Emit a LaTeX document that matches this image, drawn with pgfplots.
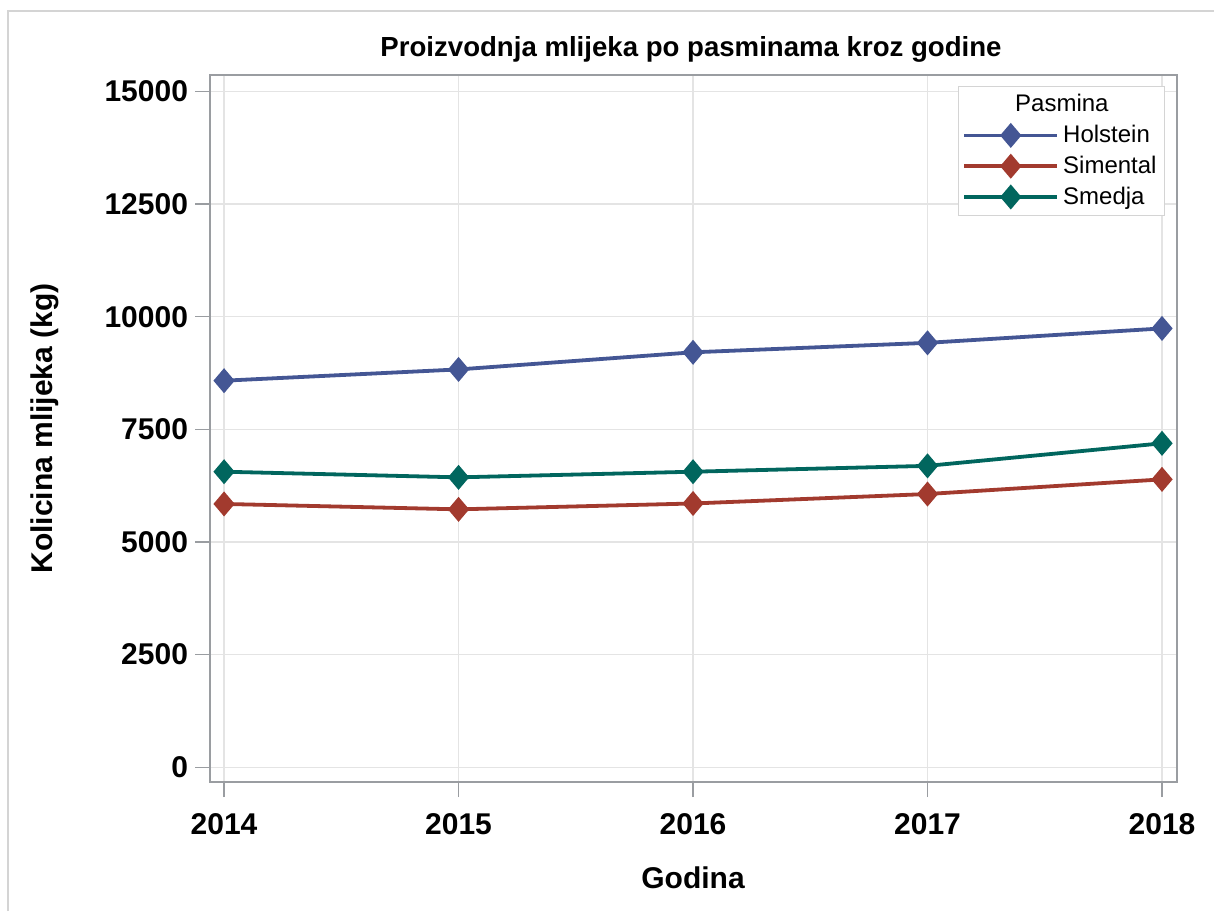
\documentclass[border=0pt]{standalone}
\usepackage{pgfplots}
\pgfplotsset{compat=1.18}
\usepackage{fontspec}
\setmainfont{Liberation Sans}
\definecolor{cHol}{HTML}{445694}
\definecolor{cSim}{HTML}{A23A2E}
\definecolor{cSme}{HTML}{01665E}
\definecolor{axisgray}{HTML}{9A9DA1}
\definecolor{gridgray}{HTML}{E4E4E4}
\definecolor{framegray}{HTML}{D4D4D4}
\begin{document}
\begin{tikzpicture}
\useasboundingbox (0,0) rectangle (607pt,455.5pt);
\draw[framegray, line width=1pt] (4pt,0) -- (4pt,450pt) -- (607pt,450pt);
\begin{axis}[
  at={(105pt,64.5pt)}, anchor=south west,
  scale only axis, width=483.5pt, height=353.5pt,
  xmin=2013.94, xmax=2018.064, ymin=-326, ymax=15364,
  xtick={2014,2015,2016,2017,2018},
  ytick={0,2500,5000,7500,10000,12500,15000},
  scaled y ticks=false, scaled x ticks=false,
  xtick pos=lower, ytick pos=left,
  tick align=outside, major tick length=7.5pt,
  every tick/.style={axisgray, line width=0.75pt},
  axis line style={axisgray, line width=0.75pt},
  grid=major, major grid style={gridgray, line width=0.6pt},
  /pgf/number format/assume math mode=true,
  /pgf/number format/fixed,
  /pgf/number format/precision=0,
  /pgf/number format/set thousands separator={},
  /pgf/number format/1000 sep={},
  ticklabel style={font=\bfseries\fontsize{15}{18}\selectfont},
  xticklabel style={yshift=-4.5pt},
  xlabel={Godina}, ylabel={Kolicina mlijeka (kg)},
  label style={font=\bfseries\fontsize{15}{18}\selectfont},
  xlabel style={at={(axis description cs:0.4995,-0.1358)}, anchor=center},
  ylabel style={at={(axis description cs:-0.1706,0.5)}, anchor=center},
  title={Proizvodnja mlijeka po pasminama kroz godine},
  title style={at={(axis description cs:0.4974,1.0396)}, anchor=center, yshift=-7pt, font=\bfseries\fontsize{13.8}{16}\selectfont},
  legend style={at={(axis description cs:0.7735,0.9844)}, anchor=north west,
    draw=framegray, font=\fontsize{12}{14}\selectfont, row sep=1.2pt,
    inner xsep=2pt, inner ysep=2pt},
  legend cell align=left,
  legend image code/.code={\draw[mark repeat=2,mark phase=2] plot coordinates {(0pt,0pt) (23.25pt,0pt) (46.5pt,0pt)};},
  every axis plot/.append style={line width=1.9pt, mark=diamond*, mark size=4.8pt},
]
\addlegendimage{empty legend}
\addlegendentry{\hspace*{-24pt}Pasmina}
\addplot[color=cHol, mark options={fill=cHol, solid, xscale=1.13}] coordinates {
  (2014,8580) (2015,8830) (2016,9210) (2017,9420) (2018,9740)};
\addlegendentry{Holstein}
\addplot[color=cSim, mark options={fill=cSim, solid, xscale=1.13}] coordinates {
  (2014,5845) (2015,5725) (2016,5855) (2017,6065) (2018,6390)};
\addlegendentry{Simental}
\addplot[color=cSme, mark options={fill=cSme, solid, xscale=1.13}] coordinates {
  (2014,6560) (2015,6435) (2016,6560) (2017,6690) (2018,7190)};
\addlegendentry{Smedja}
\end{axis}
\end{tikzpicture}
\end{document}
